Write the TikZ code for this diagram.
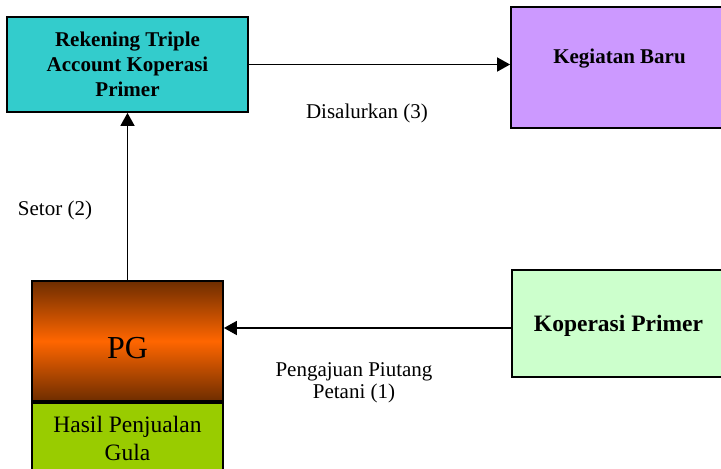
\documentclass[tikz,border=0pt]{standalone}
\usepackage{fontspec}
\setmainfont{Liberation Serif}
\usetikzlibrary{arrows.meta,calc}
\definecolor{cyanbox}{HTML}{33CCCC}
\definecolor{purplebox}{HTML}{CC99FF}
\definecolor{greenbox}{HTML}{CCFFCC}
\definecolor{olivebox}{HTML}{99CC00}
\definecolor{darkbrown}{HTML}{6E2D00}
\definecolor{orangemid}{HTML}{FF6600}
\tikzset{
  box/.style={draw=black, line width=1.8pt, inner sep=0pt, align=center},
  conn/.style={line width=1.7pt, -{Triangle[length=13pt,width=14pt]}},
  lbl/.style={inner sep=0pt, align=center, font=\fontsize{21}{22}\selectfont},
}
\begin{document}
\begin{tikzpicture}[x=1pt,y=-1pt]
\useasboundingbox (0,0) rectangle (721,469);
\clip (0,0) rectangle (721,469);
\fill[white] (0,0) rectangle (721,469);
\node[box, fill=cyanbox, minimum width=241pt, minimum height=95pt,
  font=\bfseries\fontsize{21}{25}\selectfont] (rek) at (127.5,64.5)
  {Rekening Triple\\Account Koperasi\\Primer};
\node[box, fill=purplebox, minimum width=217pt, minimum height=121pt] (keg) at (619.5,67.5) {};
\node[inner sep=0pt, font=\bfseries\fontsize{21}{25}\selectfont, anchor=base] (kegt) at (619.5,63) {Kegiatan Baru};
\node[box, fill=greenbox, minimum width=213pt, minimum height=107pt] (kop) at (618.5,323.5) {};
\node[inner sep=0pt, font=\bfseries\fontsize{23.5}{28}\selectfont, anchor=base] (kopt) at (618.5,331) {Koperasi Primer};
\node[box, top color=darkbrown, bottom color=darkbrown, middle color=orangemid,
  minimum width=191pt, minimum height=120pt] (pg) at (127.5,341) {};
\node[inner sep=0pt, font=\fontsize{32}{36}\selectfont, anchor=base] (pgt) at (127.5,358) {PG};
\node[box, fill=olivebox, minimum width=191pt, minimum height=78pt, anchor=north] (hasil) at (pg.south) {};
\node[inner sep=0pt, font=\fontsize{23.5}{28}\selectfont, anchor=base, align=center] (hasilt) at (127.5,460) {Hasil Penjualan\\Gula};
\draw[conn] (rek.east) -- (rek.east -| keg.west);
\draw[conn] (pg.north) -- (rek.south);
\draw[conn] ([yshift=-4.5pt]kop.west) -- ([yshift=-4.5pt]kop.west -| pg.east);
\node[lbl, anchor=base] (l3) at (367,118) {Disalurkan (3)};
\node[lbl, anchor=base] (l2) at (55,215) {Setor (2)};
\node[lbl, anchor=base] (l1) at (354,398) {Pengajuan Piutang\\Petani (1)};
\end{tikzpicture}
\end{document}
